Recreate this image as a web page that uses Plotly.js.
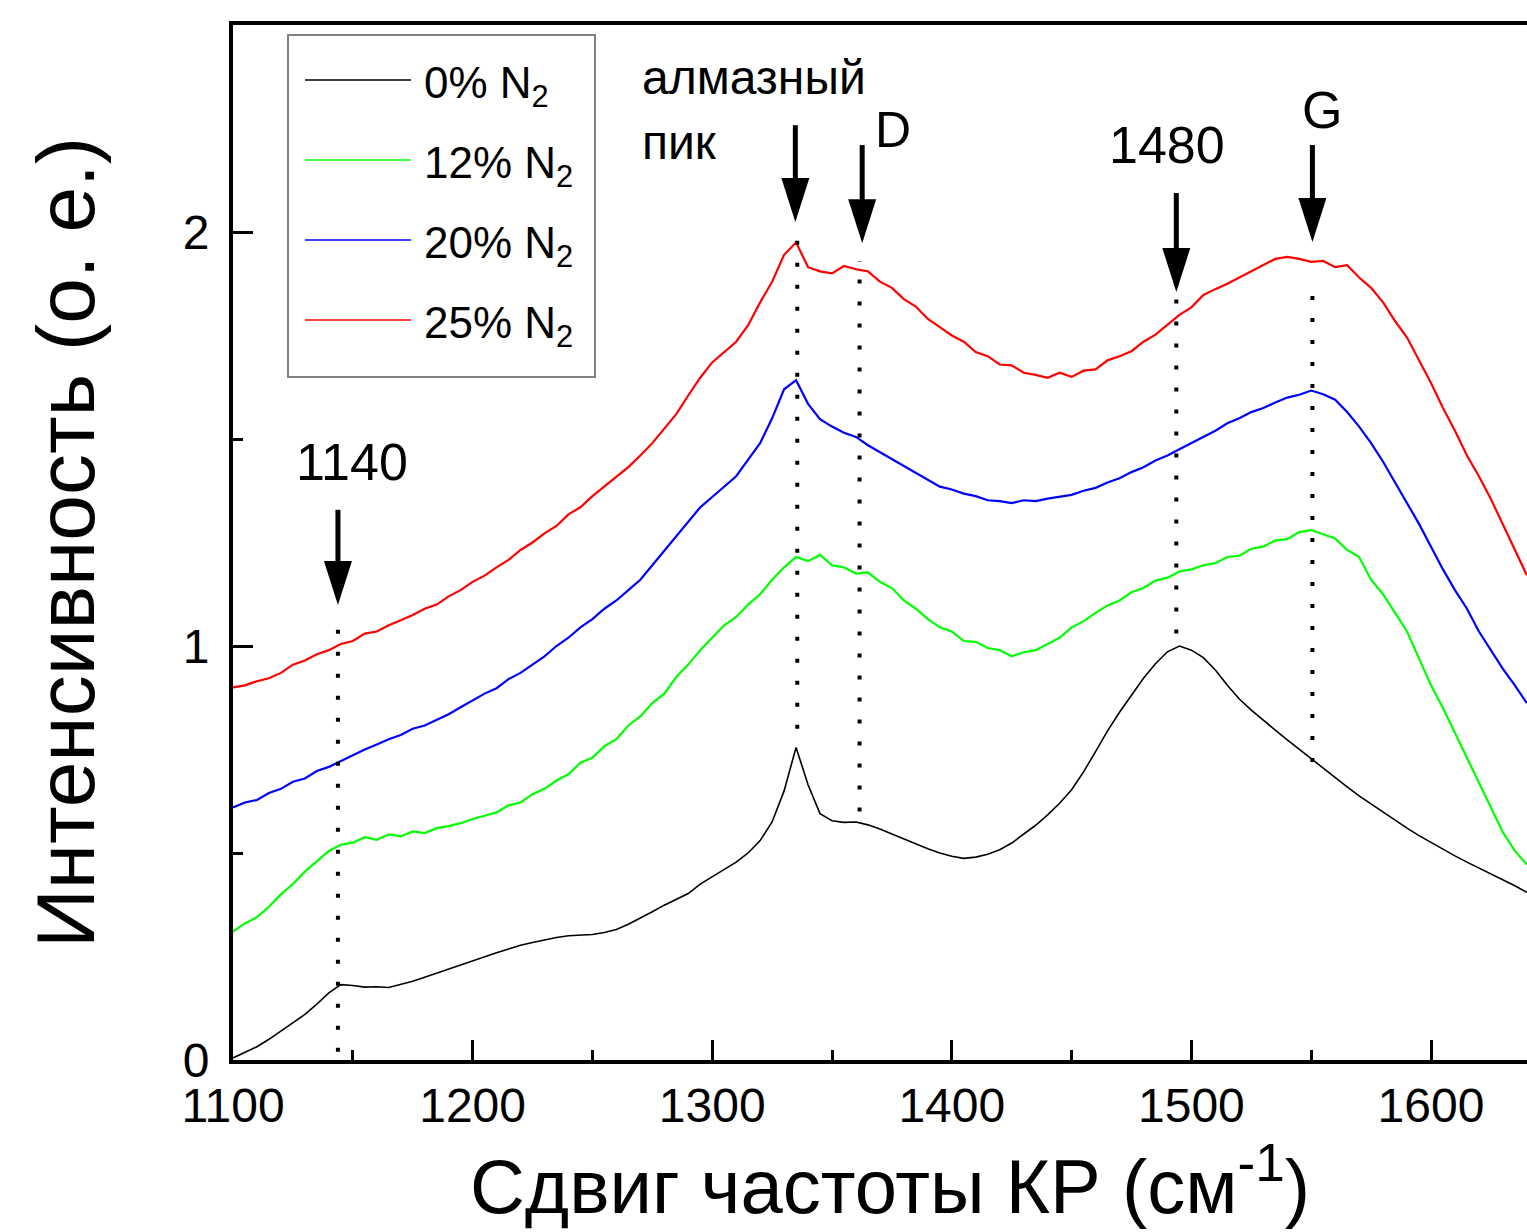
<!DOCTYPE html>
<html>
<head>
<meta charset="utf-8">
<script src="https://cdn.plot.ly/plotly-3.0.1.min.js"></script>
<style>
html,body{margin:0;padding:0;overflow:hidden;background:#fff}
#chart{width:1560px;height:1232px}
</style>
</head>
<body>
<div id="chart"></div>
<script>
// Raman shift, cm^-1
const ramanShift = [
1100,1105,1110,1115,1120,1125,1130,1135,1140,1145,
1150,1155,1160,1165,1170,1175,1180,1185,1190,1195,
1200,1205,1210,1215,1220,1225,1230,1235,1240,1245,
1250,1255,1260,1265,1270,1275,1280,1285,1290,1295,
1300,1305,1310,1315,1320,1325,1330,1335,1340,1345,
1350,1355,1360,1365,1370,1375,1380,1385,1390,1395,
1400,1405,1410,1415,1420,1425,1430,1435,1440,1445,
1450,1455,1460,1465,1470,1475,1480,1485,1490,1495,
1500,1505,1510,1515,1520,1525,1530,1535,1540,1545,
1550,1555,1560,1565,1570,1575,1580,1585,1590,1595,
1600,1605,1610,1615,1620,1625,1630,1635,1640];

const intensity0 = [
0.005,0.018,0.032,0.05,0.07,0.088,0.11,0.135,0.162,0.182,
0.18,0.176,0.177,0.175,0.182,0.19,0.2,0.21,0.22,0.23,
0.24,0.25,0.259,0.268,0.277,0.284,0.29,0.296,0.3,0.302,
0.303,0.308,0.315,0.328,0.342,0.358,0.374,0.388,0.402,0.425,
0.443,0.46,0.478,0.5,0.53,0.575,0.65,0.755,0.665,0.595,
0.578,0.574,0.575,0.568,0.558,0.546,0.534,0.521,0.51,0.5,
0.492,0.487,0.49,0.497,0.508,0.524,0.545,0.567,0.592,0.62,
0.653,0.696,0.745,0.795,0.84,0.882,0.922,0.957,0.986,1.0,
0.99,0.972,0.942,0.905,0.872,0.845,0.82,0.797,0.773,0.75,
0.727,0.705,0.682,0.66,0.638,0.618,0.598,0.578,0.56,0.542,
0.525,0.508,0.493,0.478,0.464,0.45,0.436,0.421,0.405];

const intensity12 = [
0.31,0.33,0.345,0.37,0.4,0.425,0.455,0.48,0.505,0.52,
0.525,0.538,0.532,0.545,0.54,0.552,0.548,0.56,0.565,0.572,
0.582,0.59,0.598,0.615,0.622,0.642,0.655,0.675,0.69,0.718,
0.73,0.758,0.775,0.808,0.83,0.862,0.885,0.925,0.955,0.99,
1.02,1.05,1.07,1.1,1.125,1.16,1.19,1.215,1.205,1.22,
1.195,1.19,1.175,1.178,1.155,1.14,1.11,1.09,1.065,1.045,
1.035,1.012,1.01,0.995,0.99,0.975,0.985,0.99,1.005,1.02,
1.045,1.06,1.08,1.098,1.11,1.13,1.14,1.158,1.165,1.18,
1.185,1.195,1.2,1.215,1.218,1.235,1.24,1.255,1.258,1.275,
1.28,1.27,1.26,1.232,1.215,1.16,1.125,1.08,1.035,0.97,
0.905,0.85,0.79,0.73,0.67,0.61,0.55,0.505,0.472];

const intensity20 = [
0.61,0.622,0.628,0.645,0.655,0.672,0.68,0.698,0.708,0.722,
0.735,0.75,0.762,0.775,0.785,0.8,0.808,0.822,0.835,0.852,
0.868,0.885,0.898,0.92,0.935,0.955,0.975,1.0,1.02,1.045,
1.065,1.09,1.11,1.135,1.16,1.195,1.23,1.265,1.3,1.335,
1.36,1.385,1.41,1.45,1.49,1.55,1.62,1.642,1.585,1.548,
1.53,1.515,1.505,1.485,1.468,1.452,1.435,1.418,1.4,1.385,
1.378,1.368,1.362,1.352,1.35,1.345,1.352,1.35,1.356,1.36,
1.365,1.375,1.382,1.395,1.405,1.42,1.432,1.448,1.46,1.475,
1.49,1.505,1.52,1.538,1.55,1.565,1.575,1.588,1.6,1.607,
1.617,1.608,1.595,1.565,1.53,1.49,1.445,1.395,1.345,1.295,
1.24,1.185,1.135,1.09,1.035,0.99,0.945,0.905,0.862];

const intensity25 = [
0.9,0.905,0.915,0.922,0.935,0.955,0.965,0.98,0.99,1.005,
1.012,1.03,1.035,1.05,1.062,1.075,1.09,1.1,1.12,1.135,
1.155,1.17,1.19,1.208,1.232,1.25,1.272,1.29,1.318,1.335,
1.362,1.385,1.408,1.432,1.46,1.49,1.525,1.56,1.605,1.648,
1.685,1.71,1.735,1.775,1.83,1.88,1.945,1.975,1.915,1.905,
1.9,1.918,1.91,1.905,1.88,1.865,1.838,1.82,1.79,1.77,
1.75,1.735,1.71,1.7,1.68,1.678,1.66,1.655,1.648,1.66,
1.65,1.665,1.668,1.69,1.7,1.712,1.735,1.752,1.775,1.8,
1.818,1.848,1.862,1.875,1.89,1.905,1.92,1.935,1.94,1.935,
1.928,1.93,1.915,1.92,1.89,1.865,1.83,1.785,1.745,1.69,
1.635,1.575,1.52,1.46,1.41,1.355,1.295,1.235,1.171];

const seriesNames = ['0% N<sub>2</sub>','12% N<sub>2</sub>','20% N<sub>2</sub>','25% N<sub>2</sub>'];
const seriesColors = ['#000000','#00ff00','#0000ff','#ff0000'];
const seriesValues = [intensity0, intensity12, intensity20, intensity25];

// peak markers: arrows + dotted guides
const markerX    = [1143.8, 1334.7, 1362.6, 1493.7, 1550.5];
const arrowTail  = [1.329, 2.258, 2.210, 2.094, 2.210];
const arrowTip   = [1.099, 2.024, 1.973, 1.855, 1.976];
const guideX     = [1143.8, 1335.5, 1361.5, 1493.7, 1550.5];
const guideTop   = [1.04, 1.99, 1.93, 1.84, 1.87];
const guideBottom= [0.02, 0.80, 0.60, 1.03, 0.72];

const labelTexts = ['1140','алмазный','пик','D','1480','G'];
const labelX     = [1149.7, 1269.9, 1269.9, 1375.6, 1490, 1554.7];
const labelY     = [1.444, 2.372, 2.217, 2.246, 2.210, 2.295];
const labelAnchor= ['center','left','left','center','center','center'];
const labelSize  = [52, 48, 48, 50, 52, 52];

const FONT = 'Liberation Sans, Arial, Helvetica, sans-serif';
const ML = 233, MT = 25, PW = 1314, PH = 1035;
const pxX = p => (p - ML) / PW;
const pxY = p => (MT + PH - p) / PH;

const traces = seriesValues.map((v, i) => ({
  type: 'scatter', mode: 'lines', x: ramanShift, y: v,
  name: seriesNames[i], line: {color: seriesColors[i], width: i === 0 ? 1.6 : 2.2},
  showlegend: false, hoverinfo: 'skip'
}));

const shapes = [];
const annotations = [];

// dotted guide lines
guideX.forEach((x, i) => {
  shapes.push({type: 'line', xref: 'x', yref: 'y', x0: x, x1: x, y0: guideBottom[i], y1: guideTop[i],
    line: {color: '#000', width: 4, dash: '4px,18px'}});
});
// arrows
markerX.forEach((x, i) => {
  shapes.push({type: 'line', xref: 'x', yref: 'y', x0: x, x1: x, y0: arrowTail[i], y1: arrowTip[i] + 0.08,
    line: {color: '#000', width: 5}});
  shapes.push({type: 'path', xref: 'x', yref: 'y', xsizemode: 'pixel', ysizemode: 'pixel',
    xanchor: x, yanchor: arrowTip[i], path: 'M-14,44 L14,44 L0,0 Z',
    fillcolor: '#000', line: {width: 0}});
});
// text labels
labelTexts.forEach((t, i) => {
  annotations.push({text: t, x: labelX[i], y: labelY[i], xref: 'x', yref: 'y', showarrow: false,
    xanchor: labelAnchor[i], yanchor: 'middle', font: {family: FONT, size: labelSize[i], color: '#000'}});
});

// custom legend
shapes.push({type: 'rect', xref: 'paper', yref: 'paper', x0: pxX(288), x1: pxX(595), y0: pxY(377), y1: pxY(35),
  line: {color: '#808080', width: 2}, fillcolor: 'rgba(0,0,0,0)'});
const legendRows = [80, 160, 240, 320];
legendRows.forEach((r, i) => {
  shapes.push({type: 'line', xref: 'paper', yref: 'paper', x0: pxX(305), x1: pxX(411), y0: pxY(r), y1: pxY(r),
    line: {color: seriesColors[i], width: 1.6}});
  annotations.push({text: seriesNames[i], xref: 'paper', yref: 'paper', x: pxX(422), y: pxY(r + 6),
    xanchor: 'left', yanchor: 'middle', showarrow: false, font: {family: FONT, size: 44, color: '#000'}});
});

const layout = {
  width: 1560, height: 1232,
  margin: {l: ML, r: 1560 - ML - PW, t: MT, b: 1232 - MT - PH},
  paper_bgcolor: '#fff', plot_bgcolor: '#fff',
  showlegend: false,
  font: {family: FONT, color: '#000'},
  xaxis: {
    range: [1100, 1100 + PW / 2.396],
    tickmode: 'linear', tick0: 1100, dtick: 100,
    ticks: 'inside', ticklen: 20, tickwidth: 3, tickcolor: '#000',
    minor: {tickmode: 'linear', tick0: 1100, dtick: 50, ticks: 'inside', ticklen: 10, tickwidth: 3, tickcolor: '#000'},
    showline: true, linewidth: 4, linecolor: '#000', mirror: true,
    showgrid: false, zeroline: false,
    tickfont: {family: FONT, size: 48, color: '#000'},
    ticklabelstandoff: 0,
    title: {text: 'Сдвиг частоты КР (см<sup>-1</sup>)', font: {family: FONT, size: 76, color: '#000'}, standoff: 30}
  },
  yaxis: {
    range: [0, 2.5],
    tickmode: 'linear', tick0: 0, dtick: 1,
    ticks: 'inside', ticklen: 20, tickwidth: 3, tickcolor: '#000',
    minor: {tickmode: 'linear', tick0: 0, dtick: 0.5, ticks: 'inside', ticklen: 10, tickwidth: 3, tickcolor: '#000'},
    showline: true, linewidth: 4, linecolor: '#000', mirror: true,
    showgrid: false, zeroline: false,
    tickfont: {family: FONT, size: 48, color: '#000'},
    ticklabelstandoff: 10,
    title: {text: 'Интенсивность (о. е.)', font: {family: FONT, size: 82, color: '#000'}, standoff: 62}
  },
  shapes: shapes,
  annotations: annotations
};

Plotly.newPlot('chart', traces, layout, {displayModeBar: false, staticPlot: true});
</script>
</body>
</html>
